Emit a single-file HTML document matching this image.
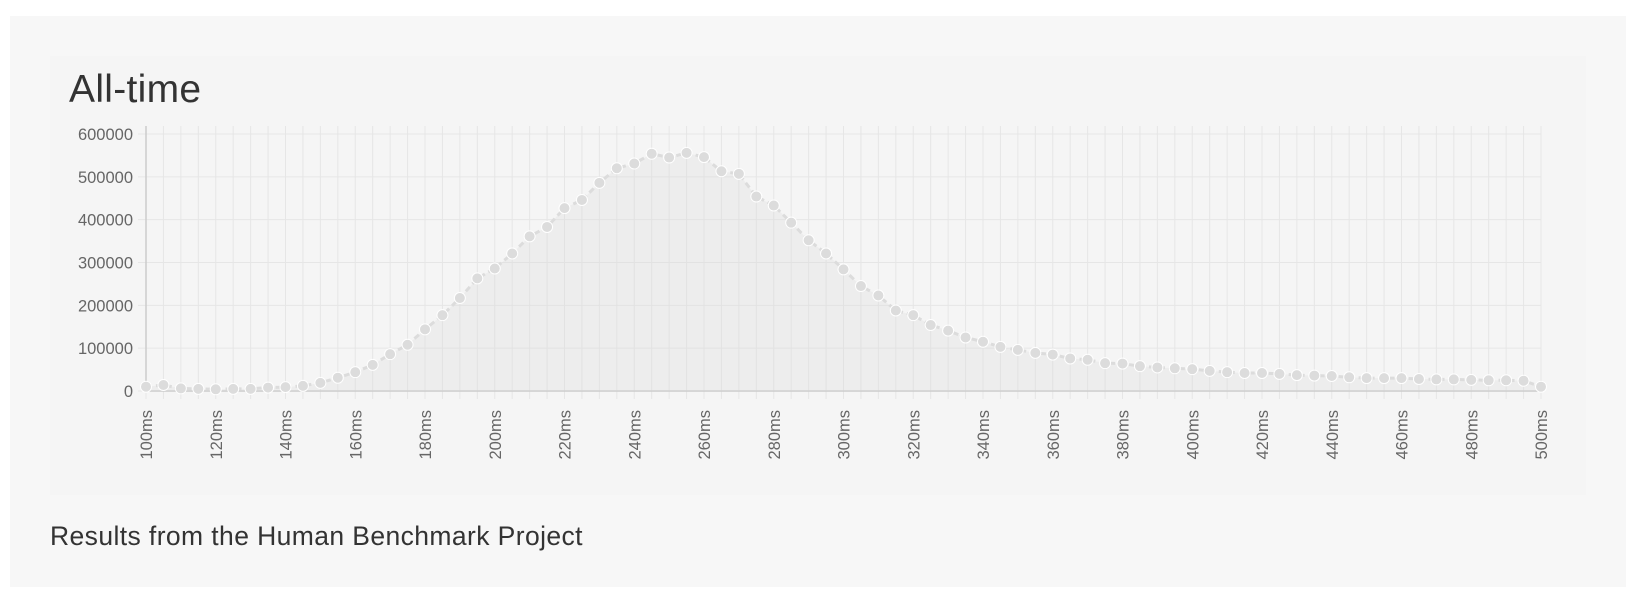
<!DOCTYPE html>
<html><head><meta charset="utf-8"><style>
body{margin:0;background:#fff;width:1642px;height:596px;overflow:hidden;font-family:"Liberation Sans",sans-serif}
#outer{position:absolute;left:10px;top:16px;width:1616px;height:571px;background:#f7f7f7}
#inner{position:absolute;left:50px;top:56px;width:1536px;height:439px;background:#f5f5f5}
#title{position:absolute;left:69px;top:68px;font-size:39px;color:#333;letter-spacing:0.3px}
#caption{position:absolute;left:50px;top:521px;font-size:26.5px;color:#333;letter-spacing:0.4px}
svg{position:absolute;left:0;top:0}
</style></head><body>
<div id="outer"></div>
<div id="inner"></div>
<div id="title">All-time</div>
<div id="caption">Results from the Human Benchmark Project</div>
<svg id="chart" width="1642" height="596"></svg>
<script>
const categories=[];for(let m=100;m<=500;m+=5)categories.push(m);
const values=[10000,14000,6000,5000,4000,5000,5000,8000,9000,12000,19000,31000,44000,61000,86000,108000,144000,177000,217000,263000,286000,321000,361000,383000,427000,446000,486000,520000,531000,554000,545000,556000,546000,513000,507000,454000,433000,393000,352000,321000,284000,245000,223000,188000,177000,154000,141000,125000,115000,103000,96000,89000,85000,76000,73000,65000,64000,58000,55000,53000,51000,47000,44000,42000,42000,40000,37000,36000,35000,32000,30000,30000,30000,28000,27000,27000,26000,25000,25000,24000,10000];
const yTicks=[0,100000,200000,300000,400000,500000,600000];
const xLabelEvery=4;
const X0=146,X1=1541,Y0=391,Y1=134;
const xs=i=>X0+(X1-X0)*i/(categories.length-1);
const ys=v=>Y0-(Y0-Y1)*v/600000;
const svg=document.getElementById('chart');const NS='http://www.w3.org/2000/svg';
function mk(t,a,p){const e=document.createElementNS(NS,t);for(const k in a)e.setAttribute(k,a[k]);(p||svg).appendChild(e);return e;}
yTicks.forEach(v=>{
 const l=mk('line',{x1:X0-8,x2:X1,y1:ys(v),y2:ys(v),stroke:'#e6e6e6','stroke-width':1});
 
 
 const t=mk('text',{x:133,y:ys(v)+6,'text-anchor':'end','font-size':16.5,fill:'#666','font-family':'Liberation Sans, sans-serif'});
 t.textContent=v;
 
 
});
categories.forEach((c,i)=>{
 const l=mk('line',{x1:xs(i),x2:xs(i),y1:Y1-8,y2:Y0+8,stroke:'#e6e6e6','stroke-width':1});
 
 
 if(i%xLabelEvery===0){
  const t=mk('text',{transform:`translate(${xs(i)+6},410) rotate(-90)`,'text-anchor':'end','font-size':16.5,fill:'#666','font-family':'Liberation Sans, sans-serif'});
  t.textContent=c+'ms';
  
  
 }
});
const ax=mk('line',{x1:X0,x2:X0,y1:Y1-8,y2:Y0,stroke:'#ccc','stroke-width':1.5});


const bx=mk('line',{x1:X0,x2:X1,y1:Y0,y2:Y0,stroke:'#ccc','stroke-width':1.5});


let d='';values.forEach((v,i)=>{d+=(i?'L':'M')+xs(i)+','+ys(v);});
const area=mk('path',{d:d+`L${xs(values.length-1)},${Y0}L${X0},${Y0}Z`,fill:'rgba(220,220,220,0.3)'});


const line=mk('path',{d:d,fill:'none',stroke:'#dcdcdc','stroke-width':3,'stroke-dasharray':'6,4'});


values.forEach((v,i)=>{
 const c=mk('circle',{cx:xs(i),cy:ys(v),r:5.5,fill:'#dcdcdc',stroke:'#fff','stroke-width':1});
 
 
});
</script>
</body></html>
